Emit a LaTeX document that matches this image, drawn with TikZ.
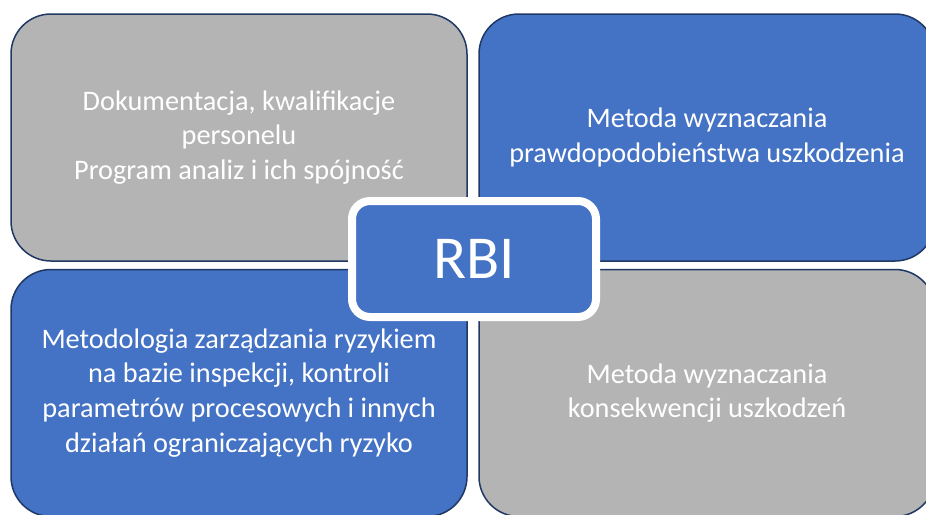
\documentclass[tikz,border=0pt]{standalone}
\usepackage{fontspec}
\setmainfont{Carlito}
\definecolor{boxgray}{HTML}{B4B4B4}
\definecolor{boxblue}{HTML}{4472C4}
\definecolor{navy}{HTML}{1F3864}
\tikzset{
  quad/.style={draw=navy, line width=1.5pt, rounded corners=40pt,
    minimum width=456pt, minimum height=247pt, align=center, text=white,
    font=\fontsize{28.3}{34.8}\selectfont, inner sep=0pt},
  grayq/.style={quad, fill=boxgray},
  blueq/.style={quad, fill=boxblue},
  centerbox/.style={draw=white, line width=8pt, fill=boxblue, rounded corners=18pt,
    minimum width=244pt, minimum height=116pt, text=white,
    font=\fontsize{61}{64}\selectfont, inner sep=0pt}
}
\begin{document}
\begin{tikzpicture}[x=1pt,y=-1pt]
\useasboundingbox (0,0) rectangle (926,514);
\clip (0,0) rectangle (926,514);
\fill[white] (0,0) rectangle (926,514);
\node[grayq] (tl) at (239,137.5) {Dokumentacja, kwalifikacje\\personelu\\Program analiz i ich spójność};
\node[blueq] (tr) at (707,137.5) {Metoda wyznaczania\\prawdopodobieństwa uszkodzenia};
\node[blueq] (bl) at (239,393) {Metodologia zarządzania ryzykiem\\na bazie inspekcji, kontroli\\parametrów procesowych i innych\\działań ograniczających ryzyko};
\node[grayq] (br) at (707,393) {Metoda wyznaczania\\konsekwencji uszkodzeń};
\node[centerbox] (rbi) at (474,259) {RBI};
\end{tikzpicture}
\end{document}
